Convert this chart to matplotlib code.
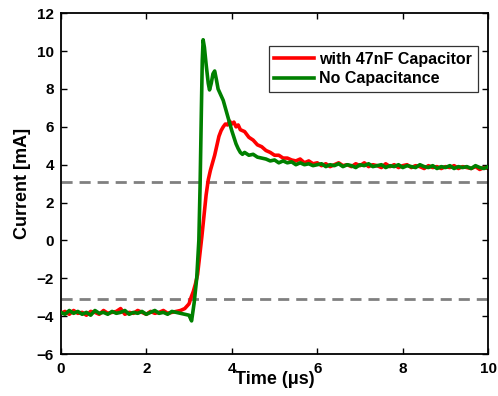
import matplotlib
matplotlib.use("Agg")
import matplotlib.pyplot as plt

plt.rcParams['font.family'] = ['Liberation Sans', 'DejaVu Sans']
plt.rcParams['font.weight'] = 'bold'

# baseline part (0 .. 2.9 us), step 0.1
t_base = [i / 10 for i in range(30)]
red_base = [-3.85, -3.75, -3.9, -3.7, -3.85, -3.8, -3.95, -3.75, -3.8, -3.9,
            -3.7, -3.85, -3.8, -3.75, -3.6, -3.9, -3.8, -3.85, -3.7, -3.8,
            -3.9, -3.75, -3.85, -3.8, -3.7, -3.85, -3.8, -3.75, -3.7, -3.6]
green_base = [-3.8, -3.9, -3.7, -3.85, -3.75, -3.9, -3.8, -3.95, -3.7, -3.85,
              -3.8, -3.9, -3.75, -3.85, -3.8, -3.7, -3.9, -3.8, -3.85, -3.75,
              -3.9, -3.8, -3.7, -3.85, -3.8, -3.9, -3.75, -3.8, -3.85, -3.9]

# transient part
t_red_tr = [3.0, 3.05, 3.1, 3.15, 3.2, 3.25, 3.3, 3.35, 3.4, 3.45, 3.5, 3.55,
            3.6, 3.65, 3.7, 3.75, 3.8, 3.85, 3.9, 3.95, 4.0, 4.05, 4.1, 4.15,
            4.2, 4.3, 4.4, 4.5, 4.6, 4.7, 4.8, 4.9, 5.0, 5.1, 5.2, 5.3, 5.4,
            5.5, 5.6, 5.7, 5.8, 5.9]
red_tr = [-3.35, -3.0, -2.7, -2.3, -1.8, -0.8, 0.2, 1.3, 2.4, 3.2, 3.7, 4.1,
          4.5, 5.0, 5.5, 5.8, 6.0, 6.15, 6.1, 6.3, 6.15, 6.25, 6.0, 6.1,
          5.85, 5.75, 5.45, 5.3, 5.05, 4.95, 4.75, 4.65, 4.5, 4.5, 4.35, 4.35,
          4.25, 4.2, 4.3, 4.1, 4.2, 4.05]

t_green_tr = [3.0, 3.06, 3.12, 3.18, 3.23, 3.26, 3.29, 3.31, 3.33, 3.36, 3.4,
              3.45, 3.48, 3.52, 3.56, 3.6, 3.64, 3.68, 3.72, 3.76, 3.8, 3.85,
              3.9, 3.95, 4.0, 4.05, 4.1, 4.15, 4.2, 4.25, 4.3, 4.4, 4.5, 4.6,
              4.7, 4.8, 4.9, 5.0, 5.1, 5.2, 5.3, 5.4, 5.5, 5.6, 5.7, 5.8, 5.9]
green_tr = [-3.95, -4.25, -3.3, -2.0, 0.0, 3.0, 7.0, 9.5, 10.6, 10.2, 9.3,
            8.3, 7.95, 8.3, 8.8, 8.95, 8.5, 8.0, 7.8, 7.6, 7.4, 7.0,
            6.6, 6.2, 5.8, 5.45, 5.1, 4.85, 4.65, 4.55, 4.65, 4.5, 4.55, 4.4,
            4.35, 4.3, 4.2, 4.25, 4.1, 4.2, 4.1, 4.15, 4.0, 4.1, 4.0, 4.05, 3.95]

# tail (6 .. 10 us), step 0.1
t_tail = [6 + i / 10 for i in range(41)]
red_tail = [4.1, 3.95, 4.05, 3.9, 4.0, 4.1, 3.95, 4.0, 3.9, 4.05,
            3.95, 4.1, 3.9, 4.0, 3.95, 3.85, 4.05, 3.9, 4.0, 3.85,
            3.95, 4.0, 3.85, 3.95, 3.9, 3.8, 3.95, 3.85, 3.9, 3.8,
            3.9, 3.85, 3.95, 3.8, 3.9, 3.85, 3.8, 3.9, 3.75, 3.85, 3.8]
green_tail = [4.0, 4.05, 3.9, 4.0, 3.95, 4.05, 3.9, 4.0, 3.95, 3.85,
              4.0, 3.95, 4.05, 3.9, 3.95, 4.0, 3.85, 3.95, 3.9, 4.0,
              3.85, 3.95, 3.9, 3.85, 4.0, 3.9, 3.85, 3.95, 3.8, 3.9,
              3.85, 3.95, 3.8, 3.9, 3.85, 3.9, 3.8, 3.95, 3.85, 3.8, 3.9]

t_red = t_base + t_red_tr + t_tail
red = red_base + red_tr + red_tail
t_green = t_base + t_green_tr + t_tail
green = green_base + green_tr + green_tail

thresholds = [3.1, -3.1]

fig = plt.figure(figsize=(4.98, 3.96), dpi=100)
ax = fig.add_axes([0.122, 0.106, 0.8585, 0.8605])

for th in thresholds:
    ax.axhline(th, color='#808080', lw=2, ls=(0, (4, 2.5)), zorder=1)

ax.plot(t_red, red, color='#ff0000', lw=2.6, label='with 47nF Capacitor', zorder=2)
ax.plot(t_green, green, color='#008000', lw=2.6, label='No Capacitance', zorder=3)

ax.set_xlim(0, 10)
ax.set_ylim(-6, 12)
ax.set_xticks(range(0, 11, 2))
ax.set_yticks(range(-6, 13, 2))
ax.set_yticklabels(['\u22126', '\u22124', '\u22122', '0', '2', '4', '6', '8', '10', '12'])
ax.tick_params(direction='in', top=True, right=True, length=4, width=1,
               labelsize=11)
ax.tick_params(axis='x', pad=6)
ax.tick_params(axis='y', pad=5)
for s in ax.spines.values():
    s.set_linewidth(1.3)

ax.set_xlabel('Time (\u03bcs)', fontsize=13, fontweight='bold', labelpad=-4)
ax.set_ylabel('Current [mA]', fontsize=13, fontweight='bold', labelpad=4)

leg = ax.legend(loc='upper right', bbox_to_anchor=(0.975, 0.904), fontsize=11.5,
                frameon=True, fancybox=False, edgecolor='black',
                handlelength=2.5, borderpad=0.35, labelspacing=0.3,
                handletextpad=0.3, borderaxespad=0)
leg.get_frame().set_linewidth(0.9)

fig.savefig('out.png', dpi=100)
